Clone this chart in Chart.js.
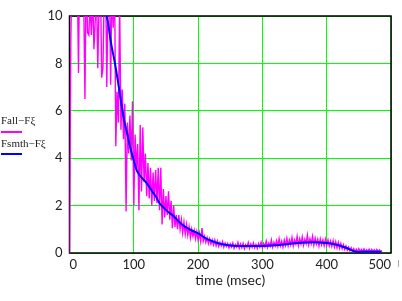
<!DOCTYPE html>
<html>
<head>
<meta charset="utf-8">
<script src="https://cdn.jsdelivr.net/npm/chart.js@4"></script>
<style>
  html, body { margin: 0; padding: 0; background: #fff; }
  canvas { display: block; }
</style>
</head>
<body>
<canvas id="chart" width="402" height="301"></canvas>
<script>
// raw signal, sampled every 2 msec starting at 0
let fallVals = [
  0, 8.8, 12.5, 13, 11.5, 14, 12, 7.6, 13, 12,
  14, 11, 6.5, 12, 9.3, 9.2, 10.5, 9.2, 11, 8.6,
  9.8, 11, 7.8, 10.6, 12, 7.4, 7.8, 11, 12, 7.0,
  11, 12, 7.1, 11.5, 9.5, 12, 4.5, 6.8, 5.5, 10.5,
  5.2, 6.9, 4.8, 6.3, 1.75, 5.5, 4.2, 5.8, 3.9, 6.4,
  2.0, 5.0, 3.5, 4.6, 1.8, 5.4, 2.6, 5.3, 3.0, 4.2,
  2.4, 3.8, 2.3, 3.6, 2.0, 3.4, 2.2, 3.5, 2.1, 3.6,
  1.8, 3.6, 1.2, 2.7, 1.5, 2.4, 1.6, 2.6, 1.4, 2.2,
  1.05, 2.0, 1.1, 1.6, 1.0, 1.6, 1.0, 1.4, 0.85, 1.3,
  0.8, 1.2, 0.75, 1.1, 0.65, 1.0, 0.7, 0.95, 0.6, 0.9,
  0.55, 0.85, 0.5, 1.05, 0.5, 0.7, 0.45, 0.65, 0.4, 0.6,
  0.38, 0.55, 0.35, 0.55, 0.3, 0.5, 0.28, 0.45, 0.3, 0.48,
  0.25, 0.42, 0.28, 0.4, 0.22, 0.38, 0.25, 0.42, 0.2, 0.35,
  0.25, 0.45, 0.2, 0.38, 0.22, 0.4, 0.18, 0.35, 0.25, 0.44,
  0.2, 0.38, 0.24, 0.42, 0.22, 0.36, 0.2, 0.4, 0.25, 0.45,
  0.22, 0.4, 0.26, 0.5, 0.24, 0.42, 0.28, 0.55, 0.25, 0.45,
  0.3, 0.52, 0.28, 0.6, 0.3, 0.5, 0.25, 0.55, 0.32, 0.62,
  0.3, 0.55, 0.35, 0.65, 0.3, 0.55, 0.38, 0.7, 0.32, 0.6,
  0.38, 0.68, 0.33, 0.58, 0.4, 0.75, 0.35, 0.6, 0.4, 0.7,
  0.33, 0.62, 0.38, 0.58, 0.3, 0.6, 0.35, 0.55, 0.3, 0.58,
  0.32, 0.55, 0.3, 0.5, 0.28, 0.52, 0.25, 0.48, 0.22, 0.45,
  0.2, 0.4, 0.18, 0.35, 0.15, 0.3, 0.12, 0.25, 0.1, 0.22,
  0.08, 0.18, 0.05, 0.16, 0.06, 0.18, 0.05, 0.15, 0.06, 0.17,
  0.05, 0.14, 0.06, 0.16, 0.05, 0.15, 0.06, 0.14, 0.05, 0.15,
  0.06, 0.13, 0.05, 0.1
];
let fallStep = 2; // msec between samples

// smoothed curve
let smthTimes = [50, 55, 58, 60, 65, 70, 75, 80, 85, 90, 95, 100, 105, 110, 115, 120, 125, 130, 135, 140,
  145, 150, 155, 160, 165, 170, 175, 180, 190, 200, 210, 220, 230, 240, 250, 260, 280, 300, 320, 340,
  360, 380, 400, 410, 420, 430, 440, 445, 460, 485];
let smthVals = [11.5, 10.6, 10, 9.7, 8.8, 8.1, 7.3, 6.4, 5.6, 5.0, 4.4, 3.9, 3.45, 3.25, 3.1, 2.95, 2.75, 2.55, 2.35, 2.1,
  1.95, 1.82, 1.7, 1.6, 1.47, 1.33, 1.2, 1.1, 0.95, 0.83, 0.65, 0.52, 0.42, 0.36, 0.32, 0.3, 0.3, 0.3, 0.33, 0.38,
  0.43, 0.45, 0.42, 0.38, 0.32, 0.22, 0.1, 0.05, 0.05, 0.05];

let xTicks = [0, 100, 200, 300, 400, 500];
let yTicks = [0, 2, 4, 6, 8, 10];
let legendLabels = ['Fall\u2212F\u03be', 'Fsmth\u2212F\u03be'];

let fallPoints = fallVals.map((v, i) => ({ x: i * fallStep, y: v }));
let smthPoints = smthVals.map((v, i) => ({ x: smthTimes[i], y: v }));

// frame around plot, drawn under the data
const framePlugin = {
  id: 'frame',
  beforeDatasetsDraw(chart) {
    const a = chart.chartArea;
    const ctx = chart.ctx;
    ctx.save();
    ctx.strokeStyle = '#000';
    ctx.lineWidth = 1.5;
    ctx.strokeRect(a.left, a.top, a.right - a.left, a.bottom - a.top);
    ctx.restore();
  },
  afterDraw(chart) {
    const ctx = chart.ctx;
    ctx.save();
    ctx.font = "11px 'Liberation Serif'";
    ctx.fillStyle = '#222';
    ctx.textBaseline = 'alphabetic';
    ctx.fillText(legendLabels[0], 1, 124);
    ctx.fillText(legendLabels[1], 1, 147);
    ctx.lineWidth = 2;
    ctx.strokeStyle = '#ff00ff';
    ctx.beginPath(); ctx.moveTo(1, 132); ctx.lineTo(22, 132); ctx.stroke();
    ctx.strokeStyle = '#0000ff';
    ctx.beginPath(); ctx.moveTo(1, 154); ctx.lineTo(22, 154); ctx.stroke();
    // small stray mark after the last tick label
    ctx.lineWidth = 1;
    ctx.strokeStyle = '#aaa';
    ctx.beginPath(); ctx.moveTo(398.5, 260); ctx.lineTo(398.5, 267); ctx.stroke();
    ctx.restore();
  }
};

const ctx = document.getElementById('chart').getContext('2d');
const chart = new Chart(ctx, {
  type: 'line',
  data: {
    datasets: [
      {
        label: legendLabels[1],
        data: smthPoints,
        borderColor: '#0000ff',
        borderWidth: 2,
        pointRadius: 0,
        tension: 0.3,
        fill: false
      },
      {
        label: legendLabels[0],
        data: fallPoints,
        borderColor: '#ff00ff',
        borderWidth: 1.4,
        pointRadius: 0,
        tension: 0,
        fill: false
      }
    ]
  },
  options: {
    responsive: false,
    animation: false,
    layout: { padding: { top: 16, right: 11, left: 0, bottom: 12 } },
    plugins: {
      legend: { display: false },
      tooltip: { enabled: false }
    },
    scales: {
      x: {
        type: 'linear',
        min: 0,
        max: 500,
        afterBuildTicks: (s) => { s.ticks = xTicks.map(v => ({ value: v })); },
        ticks: { color: '#222', font: { family: 'Lato', size: 13 }, padding: 4, maxRotation: 0, align: 'inner' },
        grid: { color: '#00ff00', lineWidth: 1, drawTicks: false },
        border: { display: false },
        title: {
          display: true,
          text: 'time (msec)',
          color: '#222',
          font: { family: 'Lato', size: 14 },
          padding: { top: 2, bottom: 0 }
        },
        afterFit: (s) => { s.height = 36; }
      },
      y: {
        min: 0,
        max: 10,
        afterBuildTicks: (s) => { s.ticks = yTicks.map(v => ({ value: v })); },
        ticks: { color: '#222', font: { family: 'Lato', size: 13 }, padding: 7 },
        grid: { color: '#00ff00', lineWidth: 1, drawTicks: false },
        border: { display: false },
        afterFit: (s) => { s.width = 69.5; }
      }
    }
  },
  plugins: [framePlugin]
});
</script>
</body>
</html>
